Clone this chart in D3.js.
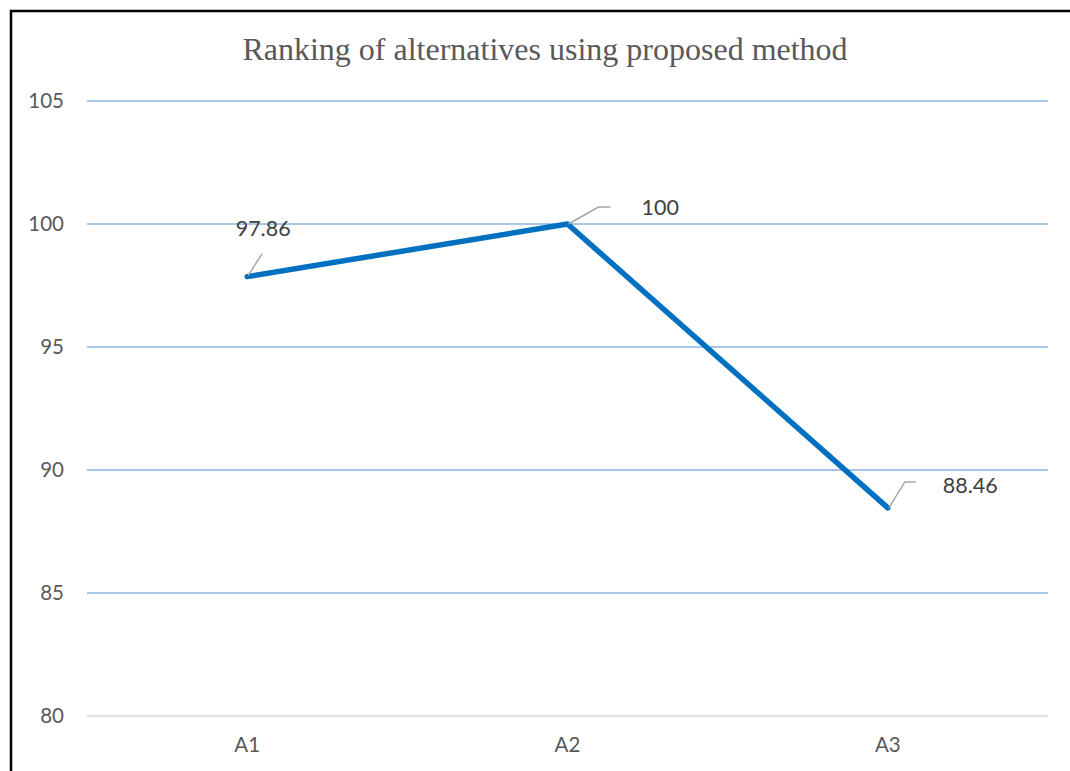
<!DOCTYPE html>
<html>
<head>
<meta charset="utf-8">
<script src="https://cdn.jsdelivr.net/npm/d3@7"></script>
<style>
  html, body { margin: 0; padding: 0; background: #fff; }
  svg { display: block; }
</style>
</head>
<body>
<svg id="chart" width="1070" height="771"></svg>
<script>
// Scores of each alternative under the proposed method
const categories = ["A1", "A2", "A3"];
const scores = [97.86, 100, 88.46];
const yTicks = [80, 85, 90, 95, 100, 105];
const chartTitle = "Ranking of alternatives using proposed method";

const svg = d3.select("#chart");
const W = 1070, H = 771;
const plot = { left: 87, right: 1048, top: 101, bottom: 716 };
const sansFont = "Lato, 'Open Sans', sans-serif";

svg.append("rect").attr("width", W).attr("height", H).attr("fill", "#fff");

// frame (top and left edges visible)
svg.append("path")
  .attr("d", `M11,${H} L11,11 L${W},11`)
  .attr("fill", "none").attr("stroke", "#000").attr("stroke-width", 2.5);

const x = d3.scaleBand().domain(categories).range([plot.left, plot.right]);
const y = d3.scaleLinear().domain([80, 105]).range([plot.bottom, plot.top]);

// gridlines
svg.append("g").selectAll("line").data(yTicks).join("line")
  .attr("x1", plot.left).attr("x2", plot.right)
  .attr("y1", d => y(d)).attr("y2", d => y(d))
  .attr("stroke", d => d === 80 ? "#d9d9d9" : "#8db3e2")
  .attr("stroke-width", 1.5);

// y axis labels
const yAxis = d3.axisLeft(y).tickValues(yTicks).tickSize(0).tickPadding(0);
const gy = svg.append("g").attr("transform", `translate(${plot.left - 23},0)`).call(yAxis);
gy.select(".domain").remove();
gy.selectAll("text")
  .attr("font-family", sansFont)
  .attr("font-size", 20.5).attr("fill", "#595959");

// x axis labels
const xAxis = d3.axisBottom(x).tickSize(0).tickPadding(0);
const gx = svg.append("g").attr("transform", `translate(0,${plot.bottom + 21})`).call(xAxis);
gx.select(".domain").remove();
gx.selectAll("text")
  .attr("font-family", sansFont)
  .attr("font-size", 20.5).attr("fill", "#595959");

const cx = c => x(c) + x.bandwidth() / 2;
const data = categories.map((c, i) => ({ c, v: scores[i] }));

// series line
svg.append("path").datum(data)
  .attr("d", d3.line().x(d => cx(d.c)).y(d => y(d.v)))
  .attr("fill", "none").attr("stroke", "#0070c0")
  .attr("stroke-width", 5.5).attr("stroke-linejoin", "round").attr("stroke-linecap", "round");

// data labels with leader lines
const labelLayout = [
  { dx: 16, dy: -41, leader: [[1, -1], [15, -23]], anchor: "middle" },
  { dx: 74, dy: -9, leader: [[1, 0], [31, -17], [43, -17]], anchor: "start" },
  { dx: 55, dy: -15, leader: [[1, 0], [17, -26], [28, -26]], anchor: "start" }
];
data.forEach((d, i) => {
  const px = cx(d.c), py = y(d.v), L = labelLayout[i];
  svg.append("path")
    .attr("d", d3.line()(L.leader.map(p => [px + p[0], py + p[1]])))
    .attr("fill", "none").attr("stroke", "#a6a6a6").attr("stroke-width", 1.5);
  svg.append("text")
    .attr("x", px + L.dx).attr("y", py + L.dy)
    .attr("text-anchor", L.anchor)
    .attr("font-family", sansFont)
    .attr("font-size", 21.5).attr("fill", "#404040")
    .text(d.v);
});

// title
svg.append("text")
  .attr("x", 545).attr("y", 60).attr("text-anchor", "middle")
  .attr("font-family", "'Liberation Serif', 'Times New Roman', serif")
  .attr("font-size", 32).attr("fill", "#595959")
  .text(chartTitle);
</script>
</body>
</html>
